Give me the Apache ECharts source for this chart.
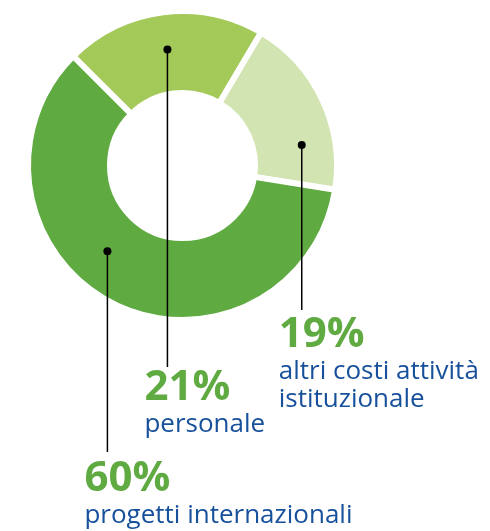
<!DOCTYPE html>
<html>
<head>
<meta charset="utf-8">
<script src="https://cdn.jsdelivr.net/npm/echarts@6/dist/echarts.min.js"></script>
<style>
html,body{margin:0;padding:0;background:#fff;}
#chart{width:490px;height:531px;}
</style>
</head>
<body>
<div id="chart"></div>
<script>
// Data (clockwise order starting at the upper-left gap)
const categories = ['personale', 'altri costi attività\nistituzionale', 'progetti internazionali'];
const values = [21, 19, 60];

// Styles
const sliceColors = ['#a3c959', '#d3e4b3', '#60aa42'];
const pctColor = '#60aa42';
const nameColor = '#17509b';
const FONT = '"Open Sans", "Noto Sans", sans-serif';

// Geometry of the donut
const CX = 182.5, CY = 165.5;
const GAP = 6;
const R_IN = 75.5, R_OUT = 151.5;

// Leader layout per slice: dot polar position, label top, line end
const leaders = [
  { angle: 97.4, r: 117, labelTop: 365, lineEnd: 367 },
  { angle: 9.8, r: 121, labelTop: 312, lineEnd: 310 },
  { angle: 228.8, r: 114, labelTop: 456, lineEnd: 452 }
];
function dotPos(i) {
  const a = leaders[i].angle * Math.PI / 180;
  return [CX + leaders[i].r * Math.cos(a), CY - leaders[i].r * Math.sin(a)];
}

const chart = echarts.init(document.getElementById('chart'), null, { renderer: 'canvas' });

const data = categories.map((c, i) => ({ name: c, value: values[i], itemStyle: { color: sliceColors[i] } }));

const guides = [];
leaders.forEach((l, i) => {
  const d = dotPos(i);
  guides.push({ type: 'line', shape: { x1: d[0], y1: d[1], x2: d[0], y2: l.lineEnd },
    style: { stroke: '#000', lineWidth: 1.5 }, z: 100 });
  guides.push({ type: 'circle', shape: { cx: d[0], cy: d[1], r: 4 }, style: { fill: '#000' }, z: 101 });
});

chart.setOption({
  animation: false,
  backgroundColor: '#fff',
  series: [{
    type: 'pie',
    center: [CX, CY],
    radius: [R_IN - GAP / 2, R_OUT + GAP / 2],
    startAngle: 135,
    clockwise: true,
    avoidLabelOverlap: false,
    silent: true,
    itemStyle: { borderColor: '#fff', borderWidth: GAP },
    label: {
      show: true,
      position: 'outside',
      formatter: '{p|{c}%}\n{n|{b}}',
      rich: {
        p: { fontFamily: FONT, fontSize: 42, fontWeight: 'bold', color: pctColor, lineHeight: 46 },
        n: { fontFamily: FONT, fontSize: 26, color: nameColor, lineHeight: 28 }
      }
    },
    labelLine: { show: false },
    labelLayout: function (params) {
      const i = params.dataIndex;
      const d = dotPos(i);
      return {
        x: d[0] - 23,
        y: leaders[i].labelTop,
        align: 'left',
        verticalAlign: 'top'
      };
    },
    data: data
  }],
  graphic: guides
});
</script>
</body>
</html>
